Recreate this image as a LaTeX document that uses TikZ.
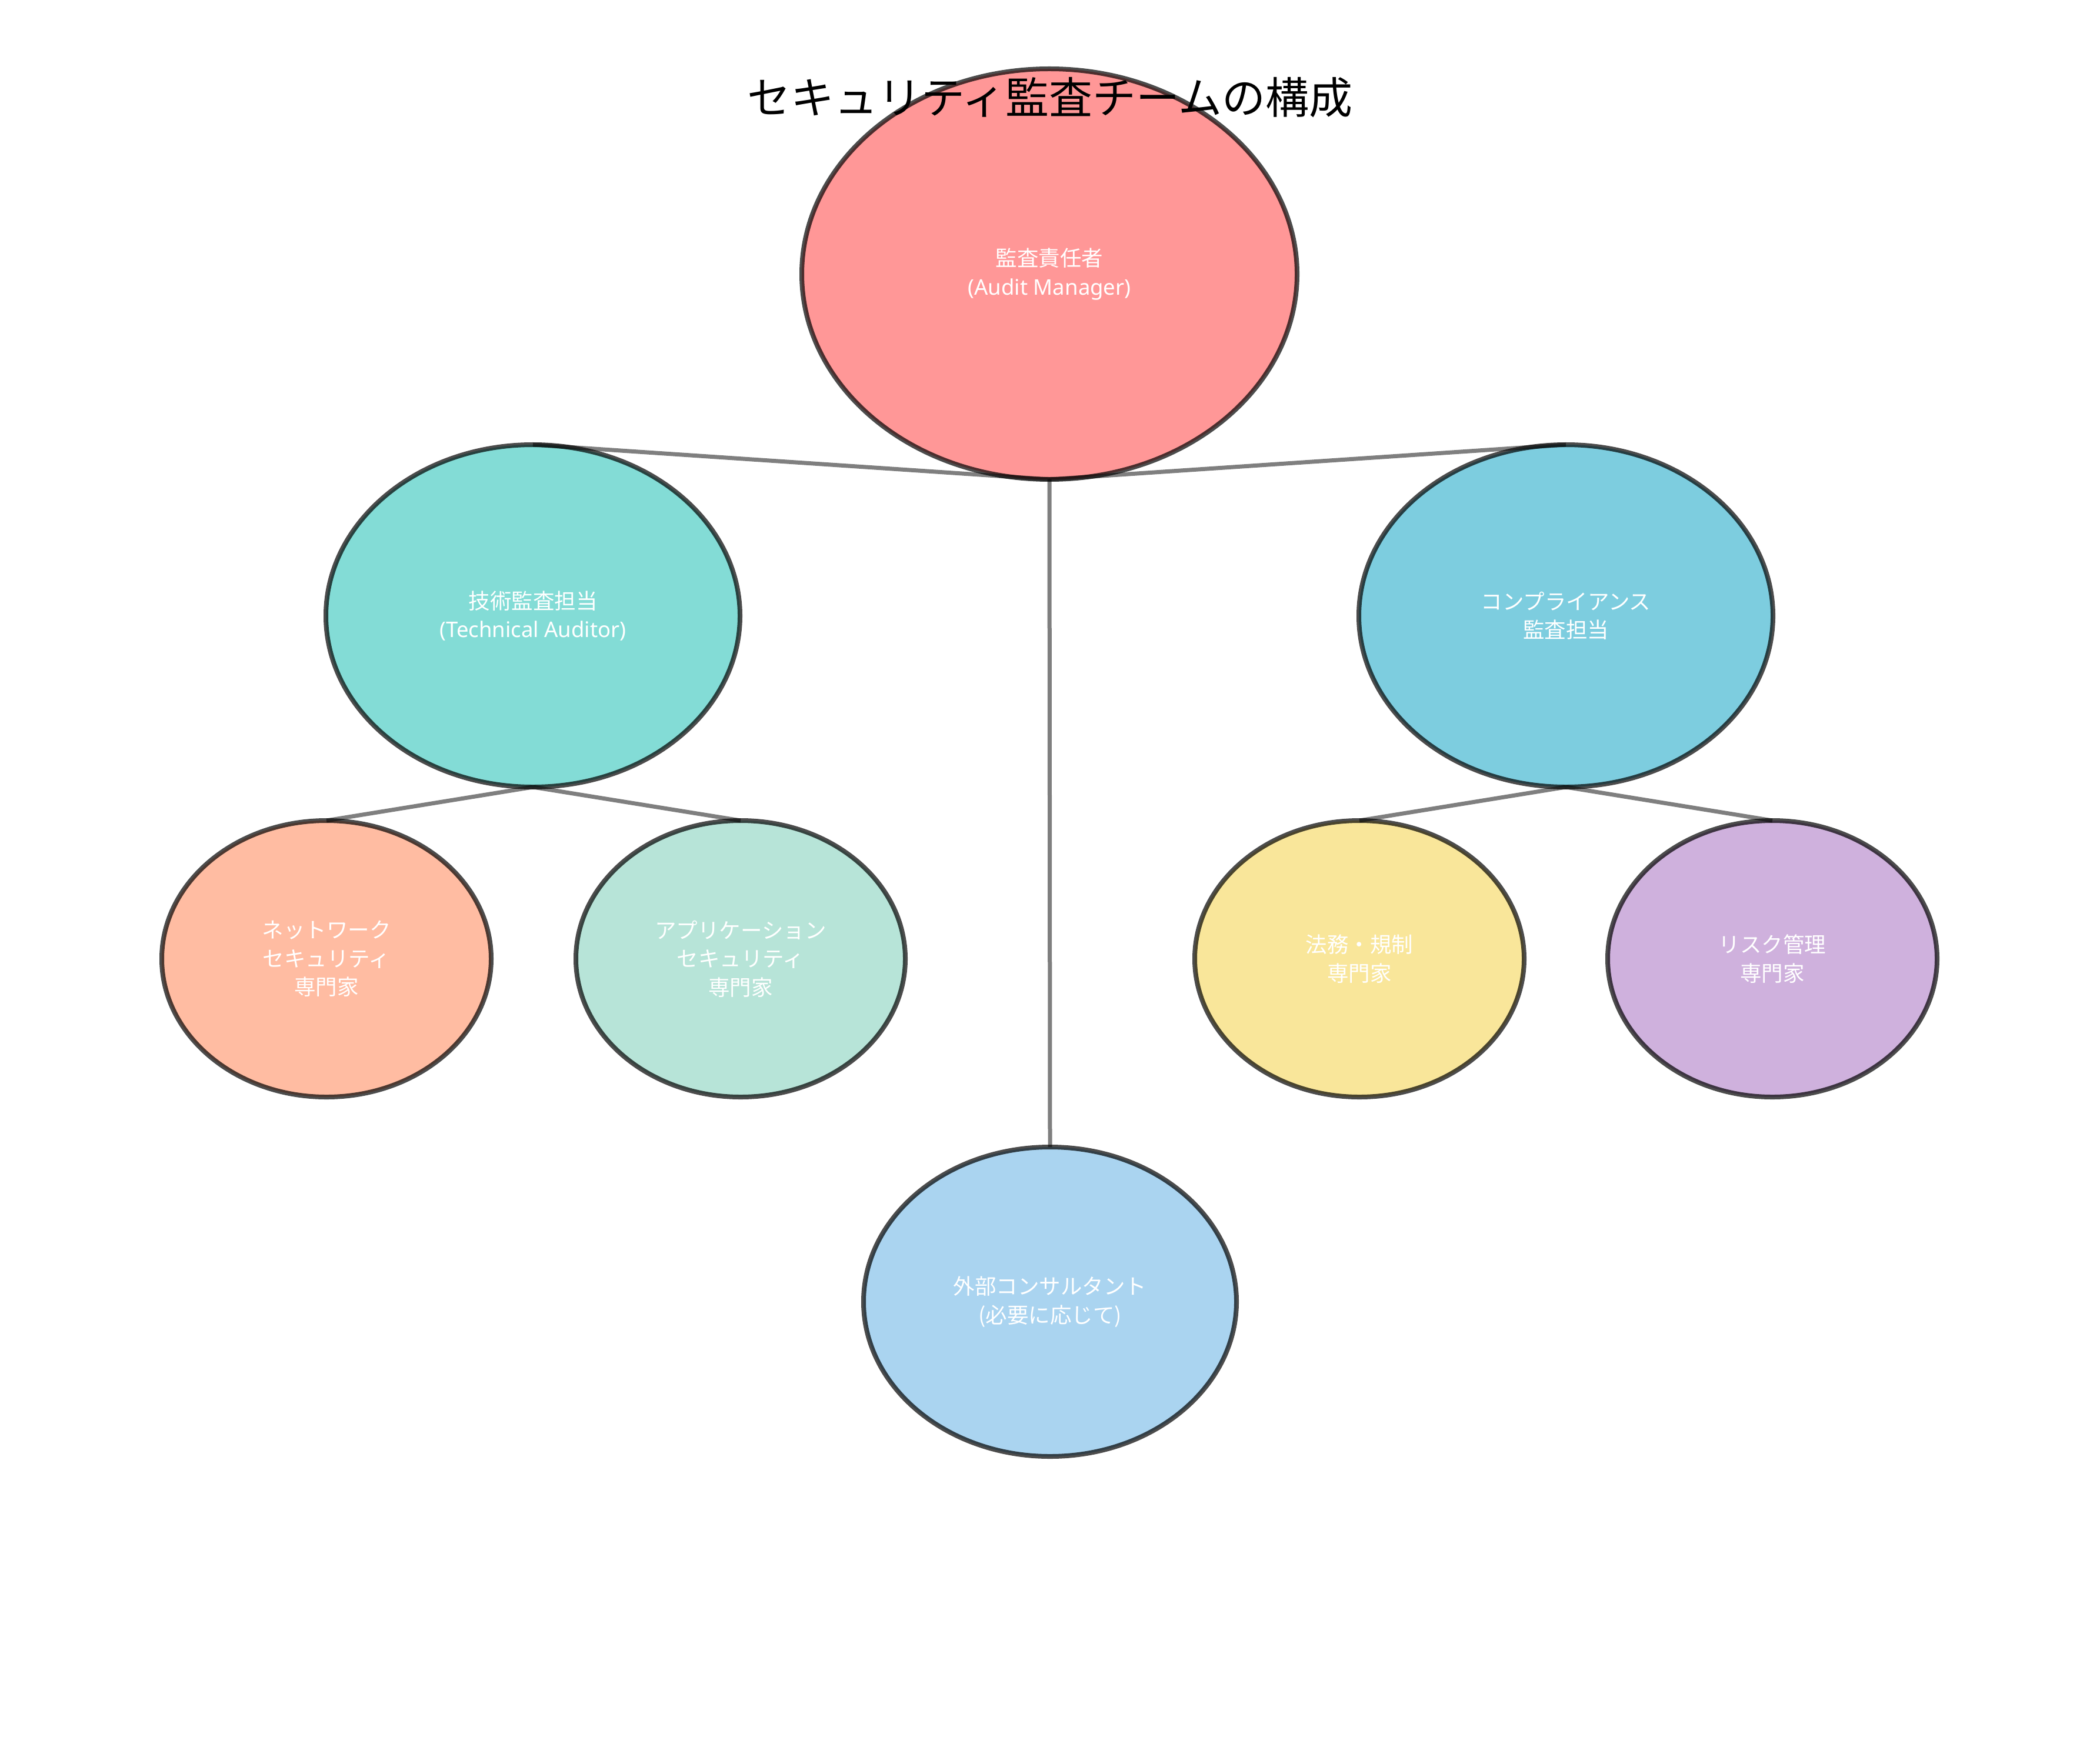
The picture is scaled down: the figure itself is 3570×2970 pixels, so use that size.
\documentclass[tikz,border=0pt]{standalone}
\usepackage{fontspec}
\newfontfamily\jp{Noto Sans CJK JP}
\newfontfamily\enfont{Noto Sans}
\usepackage{tikz}
\usetikzlibrary{shapes,positioning,backgrounds}
\definecolor{leadred}{RGB}{255, 151, 151}
\definecolor{techteal}{RGB}{131, 220, 214}
\definecolor{compblue}{RGB}{125, 205, 223}
\definecolor{netorange}{RGB}{255, 188, 162}
\definecolor{appmint}{RGB}{183, 228, 216}
\definecolor{legalyellow}{RGB}{249, 230, 154}
\definecolor{riskpurple}{RGB}{207, 177, 221}
\definecolor{extblue}{RGB}{170, 212, 240}
\tikzstyle{member} = [ellipse, draw=black, draw opacity=0.7, line width=1.6pt, inner sep=0pt, outer sep=0pt, text=white, align=center, font=\jp\fontsize{7.3}{9.7}\selectfont]
\tikzstyle{leadrole} = [member, minimum width=168.4pt, minimum height=139.6pt]
\tikzstyle{subrole} = [member, minimum width=140.8pt, minimum height=116.4pt]
\tikzstyle{expert} = [member, minimum width=112pt, minimum height=94pt]
\tikzstyle{extrole} = [member, minimum width=126.8pt, minimum height=105.2pt]
\tikzstyle{link} = [draw=black, draw opacity=0.5, line width=1.4pt]
\begin{document}
\begin{tikzpicture}[x=0.2pt, y=-0.2pt]
\useasboundingbox (0,0) rectangle (3570,2970);

% team lead =============================
\node[leadrole, fill=leadred] (manager) at (1784,466) {監査責任者\\{\enfont (Audit Manager)}};

% auditors
\node[subrole, fill=techteal] (tech) at (906,1047) {技術監査担当\\{\enfont (Technical Auditor)}};
\node[subrole, fill=compblue] (comp) at (2662,1047) {コンプライアンス\\監査担当};

% specialists
\node[expert, fill=netorange] (net) at (555,1630) {ネットワーク\\セキュリティ\\専門家};
\node[expert, fill=appmint] (app) at (1259,1630) {アプリケーション\\セキュリティ\\専門家};
\node[expert, fill=legalyellow] (legal) at (2311,1630) {法務・規制\\専門家};
\node[expert, fill=riskpurple] (risk) at (3013,1630) {リスク管理\\専門家};

% outside help
\node[extrole, fill=extblue] (consult) at (1785,2213) {外部コンサルタント\\(必要に応じて)};

% edges
\path[link] (manager.south) -- (tech.north);
\path[link] (manager.south) -- (comp.north);
\path[link] (manager.south) -- (consult.north);
\path[link] (tech.south) -- (net.north);
\path[link] (tech.south) -- (app.north);
\path[link] (comp.south) -- (legal.north);
\path[link] (comp.south) -- (risk.north);

% title
\node[font=\jp\fontsize{14.8}{18}\selectfont] (title) at (1785,166) {セキュリティ監査チームの構成};

\end{tikzpicture}
\end{document}
